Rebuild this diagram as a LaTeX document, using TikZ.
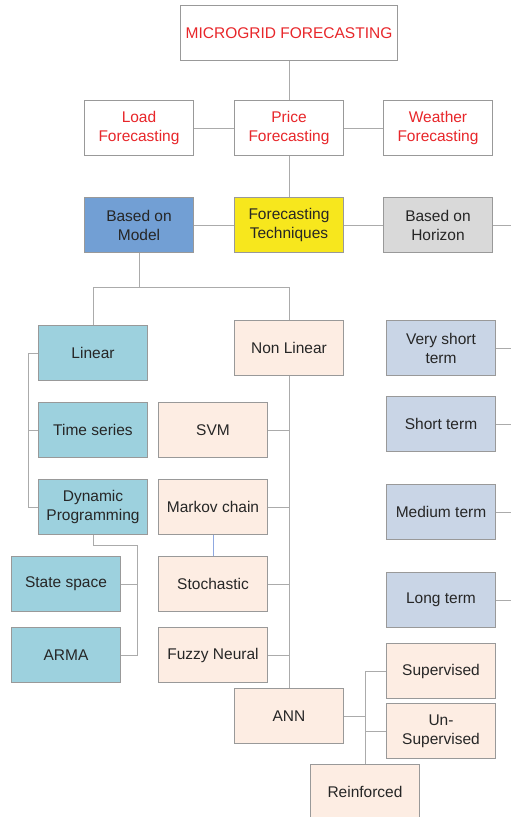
\documentclass[tikz,border=0pt]{standalone}
\usepackage{fontspec}
\setmainfont{Liberation Sans}
\usepackage{xcolor}
\usepackage{tikz}
\usetikzlibrary{positioning}

\definecolor{rimgray}{HTML}{999999}
\definecolor{linkgray}{HTML}{ABABAB}
\definecolor{titlered}{HTML}{E8262A}
\definecolor{modelblue}{HTML}{729FD4}
\definecolor{techyellow}{HTML}{F7E71D}
\definecolor{horizgray}{HTML}{D9D9D9}
\definecolor{lineteal}{HTML}{9DD1DE}
\definecolor{nonlinpeach}{HTML}{FDEDE3}
\definecolor{termblue}{HTML}{C9D5E6}
\definecolor{markovblue}{HTML}{8FA8E0}

\tikzset{
	box/.style={draw=rimgray,line width=0.9pt,minimum width=109pt,minimum height=55pt,
		inner sep=0pt,align=center,text=black!85,font=\fontsize{15.5}{19}\selectfont},
	redbox/.style={box,fill=white,text=titlered},
	linbox/.style={box,fill=lineteal},
	nlbox/.style={box,fill=nonlinpeach},
	termbox/.style={box,fill=termblue},
	link/.style={draw=linkgray,line width=0.9pt}
}

\begin{document}
\begin{tikzpicture}[x=1pt,y=-1pt]
		\useasboundingbox (0,0) rectangle (511,817);
		%
		\node[redbox,minimum width=217pt] (mg) at (289,33) {MICROGRID FORECASTING};
		\node[redbox] (load) at (139,128) {Load\\Forecasting};
		\node[redbox] (price) at (289,128) {Price\\Forecasting};
		\node[redbox] (weather) at (438,128) {Weather\\Forecasting};
		\node[box,fill=modelblue] (model) at (139,225) {Based on\\Model};
		\node[box,fill=techyellow] (tech) at (289,225) {Forecasting\\Techniques};
		\node[box,fill=horizgray] (horizon) at (438,225) {Based on\\Horizon};
		%
		\node[linbox] (linear) at (93,353) {Linear};
		\node[linbox] (timeser) at (93,430) {Time series};
		\node[linbox] (dynprog) at (93,507) {Dynamic\\Programming};
		\node[linbox] (statesp) at (66,584) {State space};
		\node[linbox] (arma) at (66,655) {ARMA};
		%
		\node[nlbox] (nonlin) at (289,348) {Non Linear};
		\node[nlbox] (svm) at (213,430) {SVM};
		\node[nlbox] (markov) at (213,507) {Markov chain};
		\node[nlbox] (stoch) at (213,584) {Stochastic};
		\node[nlbox] (fuzzy) at (213,655) {Fuzzy Neural};
		\node[nlbox] (ann) at (289,716) {ANN};
		\node[nlbox] (superv) at (441,671) {Supervised};
		\node[nlbox] (unsup) at (441,731) {Un-\\Supervised};
		\node[nlbox] (reinf) at (365,792) {Reinforced};
		%
		\node[termbox] (vshort) at (441,348) {Very short\\term};
		\node[termbox] (short) at (441,424) {Short term};
		\node[termbox] (medium) at (441,512) {Medium term};
		\node[termbox] (long) at (441,600) {Long term};
		%
		\coordinate (horizend) at (511,225);
		\coordinate (modelsplit) at (139,287);
		%
		\path[link]
		% top levels
		(mg) edge (price)
		(load) edge (price)
		(price) edge (weather)
		(price) edge (tech)
		(model) edge (tech)
		(tech) edge (horizon)
		(horizon) edge (horizend)
		% horizon terms
		(vshort.east) edge ++(15,0)
		(short.east) edge ++(15,0)
		(medium.east) edge ++(15,0)
		(long.east) edge ++(15,0)
		% non linear trunk
		(nonlin) edge (ann)
		(svm.east) edge ++(22,0)
		(markov.east) edge ++(22,0)
		(stoch.east) edge ++(22,0)
		(fuzzy.east) edge ++(22,0)
		% linear side
		(timeser.west) edge ++(-10,0)
		(statesp.east) edge ++(16,0)
		% ann side
		(ann.east) edge (ann.east -| reinf.north)
		(unsup.west) edge ++(-21,0);
		%
		\draw[link] (model.south) -- (modelsplit) -| (linear.north);
		\draw[link] (modelsplit) -| (nonlin.north);
		\draw[link] (linear.west) -| ([xshift=-10pt]dynprog.west) -- (dynprog.west);
		\draw[link] (dynprog.south) -- ++(0,10) -| ([xshift=16pt]arma.east) -- (arma.east);
		\draw[link] (reinf.north) |- (superv.west);
		\draw[markovblue,line width=0.7pt] (markov) -- (stoch);
	\end{tikzpicture}
\end{document}
